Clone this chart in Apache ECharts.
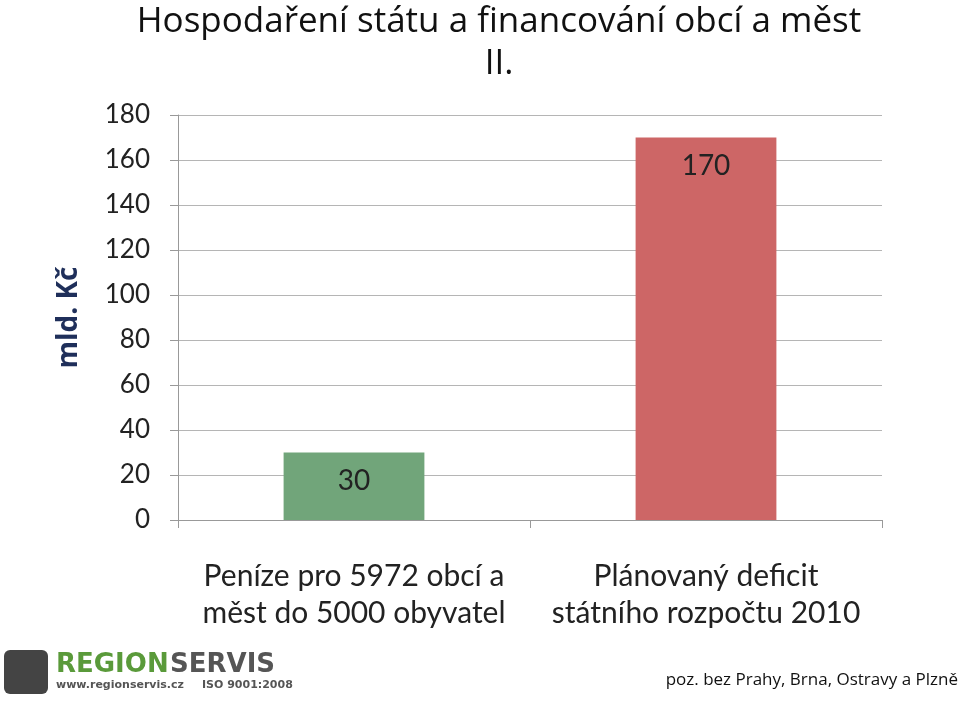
<!DOCTYPE html>
<html>
<head>
<meta charset="utf-8">
<script src="https://cdn.jsdelivr.net/npm/echarts@6/dist/echarts.min.js"></script>
<style>html,body{margin:0;padding:0;background:#fff}#chart{width:960px;height:702px}</style>
</head>
<body>
<div id="chart"></div>
<script>
const categories = ["Peníze pro 5972 obcí a\nměst do 5000 obyvatel", "Plánovaný deficit\nstátního rozpočtu 2010"];
const values = [30, 170];
const barColors = ["#71a57a", "#cd6666"];

const chart = echarts.init(document.getElementById("chart"));
chart.setOption({
  animation: false,
  title: {
    text: "Hospodaření státu a financování obcí a měst\nII.",
    left: 494, top: -4, textAlign: "center",
    textStyle: { fontFamily: "Open Sans", fontSize: 35, fontWeight: "normal", color: "#111", lineHeight: 42 }
  },
  grid: { left: 178, right: 78, top: 115, bottom: 182 },
  xAxis: {
    type: "category", data: categories,
    axisLine: { lineStyle: { color: "#999" } },
    axisTick: { show: true, length: 8, lineStyle: { color: "#999" } },
    axisLabel: { interval: 0, fontFamily: "Lato", fontSize: 30, color: "#222", lineHeight: 37, margin: 38 }
  },
  yAxis: {
    type: "value", min: 0, max: 180, interval: 20,
    name: "mld. Kč", nameLocation: "middle", nameGap: 95,
    nameTextStyle: { fontFamily: "Open Sans", fontSize: 28, fontWeight: "bold", color: "#1f2f5a" },
    axisLine: { show: true, lineStyle: { color: "#999" } },
    axisTick: { show: true, length: 8, lineStyle: { color: "#999" } },
    axisLabel: { fontFamily: "Lato", fontSize: 26, color: "#222", margin: 28 },
    splitLine: { lineStyle: { color: "#b5b5b5" } }
  },
  series: [{
    type: "bar", barWidth: "40%",
    data: values.map((v, i) => ({ value: v, itemStyle: { color: barColors[i] } })),
    label: { show: true, position: "insideTop", distance: 14, fontFamily: "Lato", fontSize: 28, color: "#222" }
  }],
  graphic: [
    { type: "rect", left: 4, top: 650, shape: { width: 44, height: 44, r: 6 }, style: { fill: "#444" } },
    { type: "text", left: 56, top: 652, style: { text: "REGION", font: "bold 26px 'DejaVu Sans'", fill: "#5a9a3a" } },
    { type: "text", left: 170, top: 652, style: { text: "SERVIS", font: "bold 26px 'DejaVu Sans'", fill: "#555" } },
    { type: "text", left: 56, top: 680, style: { text: "www.regionservis.cz", font: "bold 11px 'DejaVu Sans'", fill: "#555" } },
    { type: "text", left: 202, top: 680, style: { text: "ISO 9001:2008", font: "bold 11px 'DejaVu Sans'", fill: "#555" } },
    { type: "text", right: 2, top: 672, style: { text: "poz. bez Prahy, Brna, Ostravy a Plzně", font: "17px 'Open Sans'", fill: "#111" } }
  ]
});
</script>
</body>
</html>
